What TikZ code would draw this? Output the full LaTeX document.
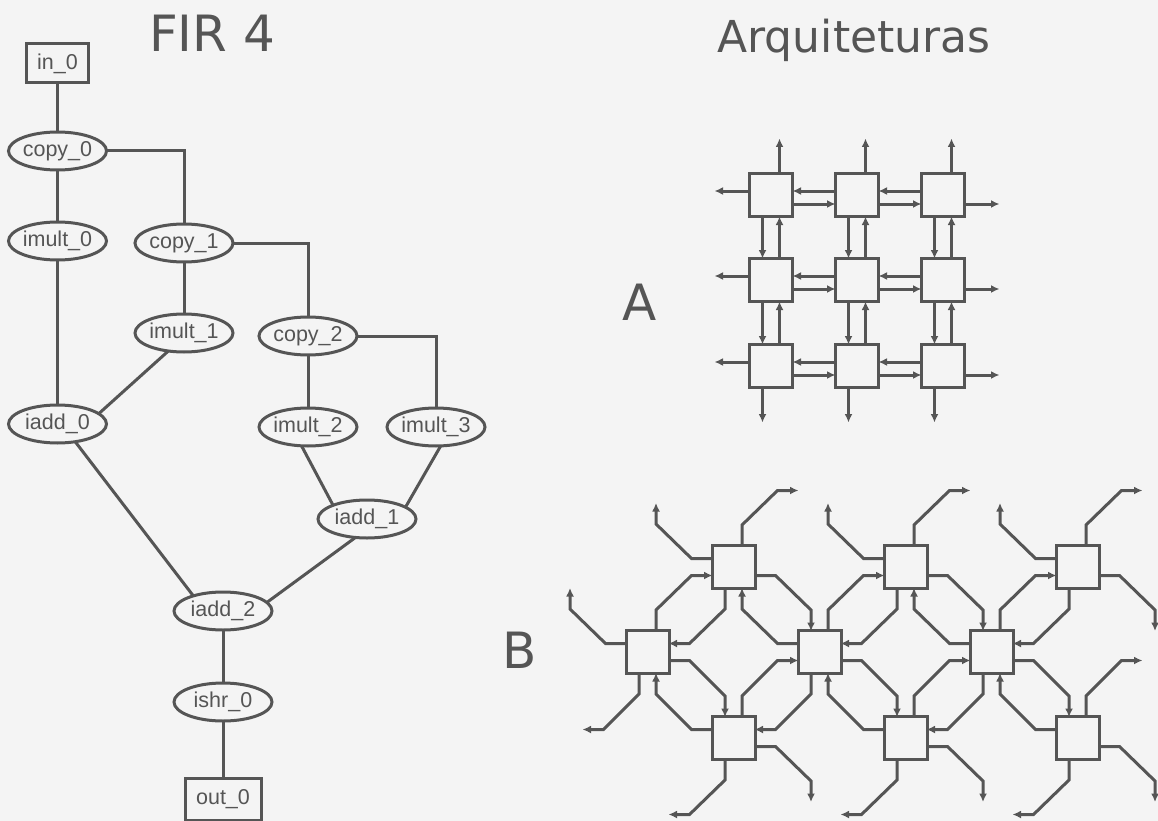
\documentclass[tikz,border=0pt]{standalone}
\usepackage{fontspec}
\setmainfont{Liberation Sans}
\newfontfamily\titlefont{DejaVu Sans}
\usetikzlibrary{shapes.geometric,arrows.meta,calc}
\definecolor{ink}{HTML}{555555}
\definecolor{bg}{HTML}{F4F4F4}
\newcommand\pathNE[2]{\draw[arr] ($(#1.center)+(8.5,-21)$) -- ($(#1.center)+(8.5,-42)$) -- ($(#2.center)+(-42,8.5)$) -- ($(#2.center)+(-21,8.5)$);}
\newcommand\pathSE[2]{\draw[arr] ($(#1.center)+(21,8.5)$) -- ($(#1.center)+(42,8.5)$) -- ($(#2.center)+(-8.5,-42)$) -- ($(#2.center)+(-8.5,-21)$);}
\newcommand\pathSW[2]{\draw[arr] ($(#1.center)+(-8.5,21)$) -- ($(#1.center)+(-8.5,42)$) -- ($(#2.center)+(42,-8.5)$) -- ($(#2.center)+(21,-8.5)$);}
\newcommand\pathNW[2]{\draw[arr] ($(#1.center)+(-21,-8.5)$) -- ($(#1.center)+(-42,-8.5)$) -- ($(#2.center)+(8.5,42)$) -- ($(#2.center)+(8.5,21)$);}
\begin{document}
\begin{tikzpicture}[x=1pt,y=-1pt,
  every node/.style={inner sep=0pt,outer sep=0pt},
  op/.style={ellipse,draw=ink,line width=3pt,minimum width=98pt,minimum height=38pt,font=\fontsize{21.5}{24}\selectfont,text=ink},
  io/.style={rectangle,draw=ink,line width=3pt,minimum width=62pt,minimum height=39pt,font=\fontsize{21.5}{24}\selectfont,text=ink},
  edge/.style={draw=ink,line width=3pt},
  pe/.style={rectangle,draw=ink,line width=3pt,minimum size=43pt},
  arr/.style={draw=ink,line width=3pt,-{Latex[length=8.5pt,width=8pt]}},
  title/.style={font=\titlefont\fontsize{50}{56}\selectfont,text=ink,anchor=base}
]
\fill[bg] (0,0) rectangle (1158,821);
\useasboundingbox (0,0) rectangle (1158,821);

% titles
\node[title] (tfir) at (212,52) {FIR 4};
\node[title,font=\titlefont\fontsize{44}{50}\selectfont] (tarq) at (854,53) {Arquiteturas};
\node[title] (tA) at (639.5,320) {A};
\node[title] (tB) at (520,668) {B};

% FIR graph
\node[io] (in0) at (57.5,63.5) {in\_0};
\node[op] (copy0) at (57.5,151) {copy\_0};
\node[op] (imult0) at (57.5,241) {imult\_0};
\node[op] (copy1) at (184,243) {copy\_1};
\node[op] (imult1) at (184,333) {imult\_1};
\node[op] (copy2) at (308,336) {copy\_2};
\node[op] (iadd0) at (57.5,424) {iadd\_0};
\node[op] (imult2) at (308,427) {imult\_2};
\node[op] (imult3) at (436,427) {imult\_3};
\node[op] (iadd1) at (367,519) {iadd\_1};
\node[op] (iadd2) at (223,611) {iadd\_2};
\node[op] (ishr0) at (223,702) {ishr\_0};
\node[io,minimum width=76pt,minimum height=42pt] (out0) at (223,799) {out\_0};

\draw[edge] (in0) -- (copy0);
\draw[edge] (copy0) -- (imult0);
\draw[edge] (imult0) -- (iadd0);
\draw[edge] (copy0) -| (copy1);
\draw[edge] (copy1) -- (imult1);
\draw[edge] (copy1) -| (copy2);
\draw[edge] (copy2) -- (imult2);
\draw[edge] (copy2) -| (imult3);
\draw[edge] (imult1.229) -- (iadd0.14);
\draw[edge] (iadd0.315) -- (iadd2.153);
\draw[edge] (imult2.251) -- (iadd1.158);
\draw[edge] (imult3.284) -- (iadd1.17);
\draw[edge] (iadd1.238) -- (iadd2.11);
\draw[edge] (iadd2) -- (ishr0);
\draw[edge] (ishr0) -- (out0);

% Architecture A : mesh
\foreach \i/\x in {1/771,2/857,3/943}
  \foreach \j/\y in {1/195,2/280,3/366}
    \node[pe] (a\i\j) at (\x,\y) {};
\foreach \j in {1,2,3} {
  \foreach \i/\k in {1/2,2/3} {
    \draw[arr] ($(a\i\j.center)+(21.5,9)$) -- ($(a\k\j.center)+(-21.5,9)$);
    \draw[arr] ($(a\k\j.center)+(-21.5,-4)$) -- ($(a\i\j.center)+(21.5,-4)$);
    \draw[arr] ($(a\j\i.center)+(-8.5,21.5)$) -- ($(a\j\k.center)+(-8.5,-21.5)$);
    \draw[arr] ($(a\j\k.center)+(8.5,-21.5)$) -- ($(a\j\i.center)+(8.5,21.5)$);
  }
  \draw[arr] ($(a\j1.center)+(8.5,-21.5)$) -- ++(0,-35);
  \draw[arr] ($(a\j3.center)+(-8.5,21.5)$) -- ++(0,35);
  \draw[arr] ($(a1\j.center)+(-21.5,-4)$) -- ++(-35,0);
  \draw[arr] ($(a3\j.center)+(21.5,9)$) -- ++(35,0);
}

% Architecture B : diagonal network
\node[pe] (t1) at (733.5,567) {};
\node[pe] (t3) at (905.5,567) {};
\node[pe] (t5) at (1077.5,567) {};
\node[pe] (m0) at (647.5,652) {};
\node[pe] (m2) at (819.5,652) {};
\node[pe] (m4) at (991.5,652) {};
\node[pe] (l1) at (733.5,738) {};
\node[pe] (l3) at (905.5,738) {};
\node[pe] (l5) at (1077.5,738) {};
\coordinate (u0) at (647.5,482);
\coordinate (u2) at (819.5,482);
\coordinate (u4) at (991.5,482);
\coordinate (u6) at (1163.5,482);
\coordinate (vw) at (561.5,567);
\coordinate (vs) at (561.5,738);
\coordinate (r6) at (1163.5,652);
\coordinate (d0) at (647.5,823);
\coordinate (d2) at (819.5,823);
\coordinate (d4) at (991.5,823);
\coordinate (d6) at (1163.5,823);

\pathNE{t1}{u2} \pathNE{t3}{u4} \pathNE{t5}{u6}
\pathNE{m0}{t1} \pathNE{m2}{t3} \pathNE{m4}{t5}
\pathNE{l1}{m2} \pathNE{l3}{m4} \pathNE{l5}{r6}

\pathSE{t1}{m2} \pathSE{t3}{m4} \pathSE{t5}{r6}
\pathSE{m0}{l1} \pathSE{m2}{l3} \pathSE{m4}{l5}
\pathSE{l1}{d2} \pathSE{l3}{d4} \pathSE{l5}{d6}

\pathSW{t1}{m0} \pathSW{t3}{m2} \pathSW{t5}{m4}
\pathSW{m0}{vs} \pathSW{m2}{l1} \pathSW{m4}{l3}
\pathSW{l1}{d0} \pathSW{l3}{d2} \pathSW{l5}{d4}

\pathNW{t1}{u0} \pathNW{t3}{u2} \pathNW{t5}{u4}
\pathNW{m0}{vw} \pathNW{m2}{t1} \pathNW{m4}{t3}
\pathNW{l1}{m0} \pathNW{l3}{m2} \pathNW{l5}{m4}
\end{tikzpicture}
\end{document}
